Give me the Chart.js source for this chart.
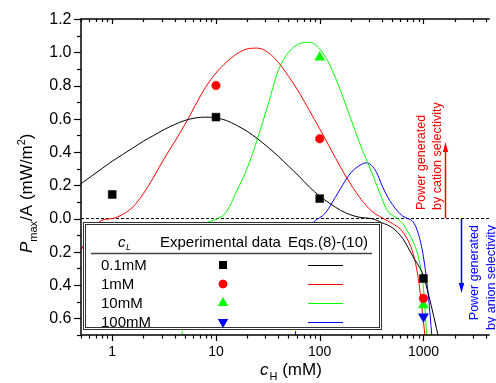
<!DOCTYPE html>
<html><head><meta charset="utf-8">
<script src="https://cdn.jsdelivr.net/npm/chart.js@4/dist/chart.umd.min.js"></script>
<style>html,body{margin:0;padding:0;background:#fff;overflow:hidden}canvas{display:block}</style>
</head><body>
<canvas id="c" width="496" height="383"></canvas>
<script>
const FONT = '"Liberation Sans", Arial, Helvetica, sans-serif';

// ---- experimental data (x = c_H in mM) ----
const expX = [1, 10, 100, 1000];
const exp01 = [0.145, 0.61, 0.12, -0.36];
const exp1 = [null, 0.80, 0.48, -0.48];
const exp10 = [null, null, 0.97, -0.52];
const exp100 = [null, null, null, -0.59];

// ---- Eqs.(8)-(10) curves ----
const fit01X = [0.501,0.631,0.794,1,1.259,1.585,1.995,2.512,3.162,3.981,5.012,6.310,7.943,10,12.59,15.85,19.95,25.12,31.62,39.81,50.12,63.10,79.43,100,125.9,158.5,199.5,251.2,316.2,398.1,501.2,631.0,794.3,1000,1122,1259,1413];
const fit01Y = [0.21,0.255,0.30,0.345,0.385,0.425,0.465,0.50,0.535,0.565,0.59,0.605,0.61,0.605,0.59,0.56,0.525,0.48,0.43,0.375,0.315,0.255,0.19,0.135,0.09,0.05,0.022,0.006,0.0,-0.025,-0.055,-0.12,-0.23,-0.345,-0.46,-0.59,-0.73];

const fit1X = [0.501,0.631,0.794,1,1.259,1.585,1.995,2.512,3.162,3.981,5.012,6.310,7.943,10,12.59,15.85,19.95,25.12,31.62,39.81,50.12,63.10,79.43,100,125.9,158.5,199.5,251.2,316.2,398.1,501.2,631.0,794.3,891.3,1000,1072];
const fit1Y = [-0.19,-0.07,-0.01,0.0,0.025,0.07,0.15,0.25,0.36,0.46,0.565,0.68,0.79,0.875,0.94,0.99,1.02,1.025,1.0,0.94,0.855,0.76,0.65,0.54,0.425,0.31,0.205,0.115,0.045,0.005,-0.03,-0.08,-0.21,-0.36,-0.62,-0.8];

const fit10X = [4.677,5.012,5.623,6.310,7.943,10,12.59,15.85,19.95,25.12,31.62,39.81,50.12,63.10,79.43,100,125.9,158.5,199.5,251.2,316.2,398.1,446.7,501.2,562.3,631.0,707.9,794.3,891.3,1000,1072,1122];
const fit10Y = [-0.72,-0.5,-0.25,-0.12,-0.03,-0.005,0.04,0.165,0.3,0.48,0.68,0.89,1.0,1.05,1.06,1.02,0.92,0.77,0.6,0.43,0.28,0.12,0.05,0.02,0.0,-0.03,-0.08,-0.14,-0.23,-0.42,-0.69,-0.8];

const fit100X = [57.54,63.10,70.79,79.43,89.13,100,112.2,125.9,158.5,199.5,251.2,281.8,316.2,354.8,398.1,446.7,501.2,562.3,631.0,707.9,794.3,891.3,1000,1122,1202,1259];
const fit100Y = [-0.75,-0.4,-0.17,-0.06,-0.015,0.005,0.03,0.075,0.18,0.275,0.325,0.335,0.32,0.275,0.2,0.135,0.085,0.045,0.015,0.0,-0.02,-0.09,-0.23,-0.48,-0.7,-0.85];

// ---- labels ----
const seriesLabels = ['0.1mM', '1mM', '10mM', '100mM'];
const xTickValues = [1, 10, 100, 1000];
const xTickLabels = ['1', '10', '100', '1000'];
const yTickValues = [-0.6, -0.4, -0.2, 0, 0.2, 0.4, 0.6, 0.8, 1.0, 1.2];
const yTickLabels = ['0.6', '0.4', '0.2', '0.0', '0.2', '0.4', '0.6', '0.8', '1.0', '1.2'];

const colors = ['#000000', '#ff0000', '#00ff00', '#0000ff'];
const pStyles = [
  {pointStyle: 'rect', radius: 5.6, rotation: 0},
  {pointStyle: 'circle', radius: 4.3, rotation: 0},
  {pointStyle: 'triangle', radius: 5.8, rotation: 0},
  {pointStyle: 'triangle', radius: 5.8, rotation: 180}
];

function pts(xs, ys) {
  const out = [];
  for (let i = 0; i < xs.length; i++) if (ys[i] !== null) out.push({x: xs[i], y: ys[i]});
  return out;
}

const expSeries = [exp01, exp1, exp10, exp100];
const fitSeries = [[fit01X, fit01Y], [fit1X, fit1Y], [fit10X, fit10Y], [fit100X, fit100Y]];

const datasets = [];
expSeries.forEach((s, i) => {
  datasets.push({
    label: 'exp ' + seriesLabels[i], data: pts(expX, s), showLine: false,
    pointStyle: pStyles[i].pointStyle, pointRadius: pStyles[i].radius, pointRotation: pStyles[i].rotation,
    pointBackgroundColor: colors[i], pointBorderColor: colors[i], pointBorderWidth: 0.5
  });
});
fitSeries.forEach((f, i) => {
  datasets.push({
    label: 'fit ' + seriesLabels[i], data: pts(f[0], f[1]), showLine: true,
    borderColor: colors[i], borderWidth: 1, pointRadius: 0,
    cubicInterpolationMode: 'monotone', fill: false
  });
});

function line(ctx, x1, y1, x2, y2) { ctx.beginPath(); ctx.moveTo(x1, y1); ctx.lineTo(x2, y2); ctx.stroke(); }

function marker(ctx, style, x, y, color) {
  ctx.fillStyle = color;
  Chart.helpers.drawPoint(ctx, {pointStyle: style.pointStyle, radius: style.radius, rotation: style.rotation, borderWidth: 0}, x, y);
  ctx.fill();
}

const deco = {
  id: 'deco',
  beforeDatasetsDraw(chart) {
    const {ctx, chartArea: ca, scales: {y}} = chart;
    ctx.save();
    ctx.strokeStyle = '#000'; ctx.lineWidth = 1; ctx.setLineDash([3, 2]);
    const y0 = Math.floor(y.getPixelForValue(0)) + 0.5;
    line(ctx, ca.left, y0, ca.right, y0);
    ctx.restore();
  },
  afterDatasetsDraw(chart) {
    const {ctx, chartArea: ca, scales: {x: xs, y: ys}} = chart;
    ctx.save();
    // ---- legend box ----
    ctx.fillStyle = '#fff';
    ctx.fillRect(83, 222, 299, 109);
    ctx.strokeStyle = '#333'; ctx.lineWidth = 1;
    ctx.strokeRect(83.5, 222.5, 298, 107);
    ctx.strokeRect(85.5, 224.5, 294, 103);
    ctx.fillStyle = '#000';
    ctx.textBaseline = 'alphabetic'; ctx.textAlign = 'left';
    ctx.font = 'italic 15px ' + FONT; ctx.fillText('c', 118, 246.5);
    ctx.font = 'italic 9px ' + FONT; ctx.fillText('L', 126, 249.5);
    ctx.font = '15px ' + FONT;
    ctx.fillText('Experimental data', 160, 246.5);
    ctx.fillText('Eqs.(8)-(10)', 288, 246.5);
    ctx.strokeStyle = '#444'; ctx.lineWidth = 1.5;
    line(ctx, 91, 253.5, 372, 253.5);
    const rowY = [265, 284, 303, 322];
    seriesLabels.forEach((lab, i) => {
      ctx.fillStyle = '#000'; ctx.font = '15px ' + FONT; ctx.textBaseline = 'middle';
      ctx.fillText(lab, 101, rowY[i] + 0.5);
      marker(ctx, pStyles[i], 223, rowY[i], colors[i]);
      ctx.strokeStyle = colors[i]; ctx.lineWidth = 1;
      line(ctx, 308, rowY[i] + 0.5, 343, rowY[i] + 0.5);
    });

    // ---- axes ----
    ctx.strokeStyle = '#000'; ctx.lineWidth = 1.5;
    line(ctx, ca.left, ca.top, ca.right, ca.top);
    line(ctx, ca.left, ca.top - 0.75, ca.left, ca.bottom + 0.75);
    line(ctx, ca.left, ca.bottom, ca.right, ca.bottom);
    ctx.lineWidth = 1.2;
    for (const d of [0.1, 1, 10, 100, 1000]) {
      for (let m = 1; m <= 9; m++) {
        const v = d * m;
        if (v < xs.min || v > xs.max) continue;
        const px = Math.round(xs.getPixelForValue(v)) + 0.5;
        const major = m === 1;
        line(ctx, px, ca.bottom, px, ca.bottom + (major ? 6 : 3.5));
        line(ctx, px, ca.top, px, ca.top + (major ? 5 : 3));
      }
    }
    for (let k = -7; k <= 12; k++) {
      const v = k / 10;
      const py = Math.round(ys.getPixelForValue(v)) + 0.5;
      const major = (k % 2 === 0);
      line(ctx, ca.left - (major ? 7 : 4), py, ca.left, py);
    }
    // tick labels
    ctx.fillStyle = '#000';
    ctx.font = '14px ' + FONT; ctx.textAlign = 'center'; ctx.textBaseline = 'middle';
    xTickValues.forEach((v, i) => ctx.fillText(xTickLabels[i], xs.getPixelForValue(v), 352));
    ctx.font = '16px ' + FONT; ctx.textAlign = 'right';
    yTickValues.forEach((v, i) => ctx.fillText(yTickLabels[i], 71.5, ys.getPixelForValue(v) + 0.5));

    // ---- axis titles ----
    ctx.textAlign = 'left'; ctx.textBaseline = 'alphabetic';
    let cx = 260;
    ctx.font = 'italic 17px ' + FONT; ctx.fillText('c', cx, 375); cx += ctx.measureText('c').width + 1;
    ctx.font = '11px ' + FONT; ctx.fillText('H', cx, 380); cx += ctx.measureText('H').width;
    ctx.font = '17px ' + FONT; ctx.fillText(' (mM)', cx, 375);

    ctx.save();
    ctx.translate(32, 253); ctx.rotate(-Math.PI / 2);
    cx = 0;
    ctx.font = 'italic 17px ' + FONT; ctx.fillText('P', cx, 0); cx += ctx.measureText('P').width;
    ctx.font = '11px ' + FONT; ctx.fillText('max', cx, 5); cx += ctx.measureText('max').width;
    ctx.font = '17px ' + FONT; ctx.fillText('/A (mW/m', cx, 0); cx += ctx.measureText('/A (mW/m').width;
    ctx.font = '11px ' + FONT; ctx.fillText('2', cx, -7); cx += ctx.measureText('2').width;
    ctx.font = '17px ' + FONT; ctx.fillText(')', cx, 0);
    ctx.restore();

    // ---- annotations ----
    ctx.lineWidth = 1.5;
    ctx.strokeStyle = '#ff0000'; ctx.fillStyle = '#ff0000';
    line(ctx, 445.5, 218, 445.5, 151);
    ctx.beginPath(); ctx.moveTo(445.5, 142); ctx.lineTo(442.8, 152); ctx.lineTo(448.2, 152); ctx.closePath(); ctx.fill();
    ctx.strokeStyle = '#0000ff'; ctx.fillStyle = '#0000ff';
    line(ctx, 461.5, 219, 461.5, 284);
    ctx.beginPath(); ctx.moveTo(461.5, 293); ctx.lineTo(458.8, 283); ctx.lineTo(464.2, 283); ctx.closePath(); ctx.fill();

    ctx.font = '12.5px ' + FONT;
    ctx.fillStyle = '#ff0000';
    ctx.save(); ctx.translate(424.5, 210); ctx.rotate(-Math.PI / 2); ctx.textAlign = 'left';
    ctx.fillText('Power generated', 0, 0);
    ctx.fillText('by cation selectivity', 0, 16.5);
    ctx.restore();
    ctx.fillStyle = '#0000ff';
    ctx.save(); ctx.translate(478, 225); ctx.rotate(-Math.PI / 2); ctx.textAlign = 'right';
    ctx.fillText('Power generated', 0, 0);
    ctx.fillText('by anion selectivity', 0, 16.5);
    ctx.restore();

    ctx.restore();
  }
};

new Chart(document.getElementById('c'), {
  type: 'scatter',
  data: {datasets},
  options: {
    responsive: false, animation: false, devicePixelRatio: 1,
    layout: {padding: {left: 81, top: 19, right: 0, bottom: 48}},
    plugins: {legend: {display: false}, tooltip: {enabled: false}},
    scales: {
      x: {type: 'logarithmic', min: 0.5, max: 4350, display: false},
      y: {type: 'linear', min: -0.7, max: 1.2, display: false}
    }
  },
  plugins: [deco]
});
</script>
</body></html>
